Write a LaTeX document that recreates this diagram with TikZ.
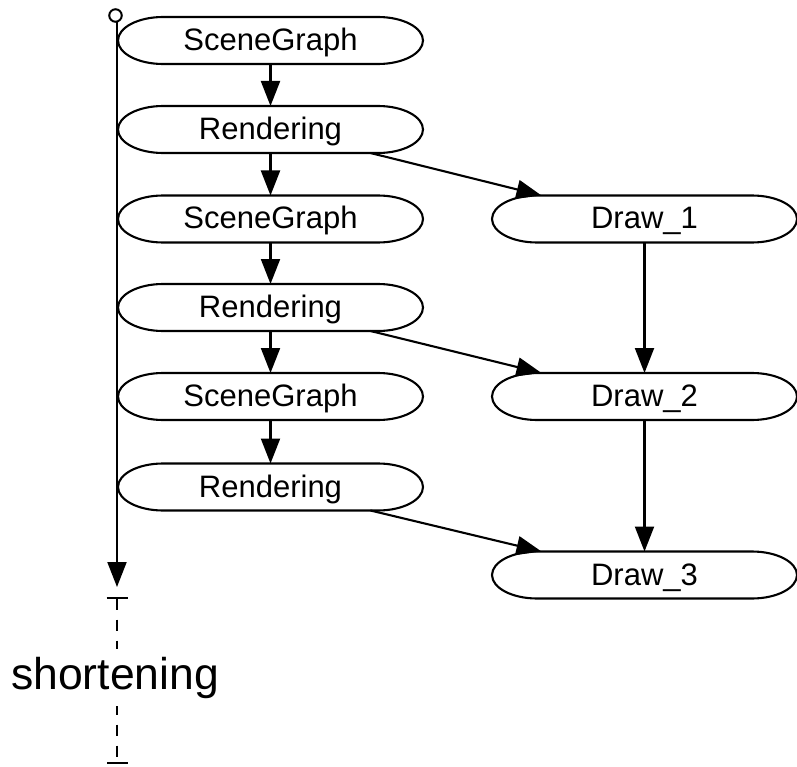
\documentclass[tikz,border=0pt]{standalone}
\usepackage{fontspec}
\setmainfont{Liberation Sans}
\usetikzlibrary{arrows.meta}
\tikzset{
  stage/.style={draw=none, rectangle, minimum width=305pt, minimum height=47pt,
    inner sep=0pt, outer sep=0pt, text height=22pt, text depth=2pt,
    font=\fontsize{31}{37}\selectfont},
  flow/.style={line width=2.1pt, -{Triangle[length=25pt,width=19pt]}},
  outline/.style={line width=2.1pt},
  startdot/.style={circle, draw, line width=2pt, minimum size=12.5pt, inner sep=0pt, outer sep=0pt},
  shortline/.style={line width=2.1pt, dash pattern=on 11pt off 10pt,
    {Bar[width=21pt,line width=2.1pt]}-{Bar[width=21pt,line width=2.1pt]}},
  shortlabel/.style={fill=white, inner xsep=2pt, inner ysep=8pt, font=\fontsize{44.5}{52}\selectfont},
}
\newcommand\stadiumpath[1]{\draw[outline] ([xshift=45pt]#1.north west) -- ([xshift=-45pt]#1.north east)
  arc[start angle=90,end angle=-90,x radius=45pt,y radius=23.5pt] -- ([xshift=45pt]#1.south west)
  arc[start angle=270,end angle=90,x radius=45pt,y radius=23.5pt] -- cycle;}
\begin{document}
\begin{tikzpicture}[x=1pt,y=-1pt]
\useasboundingbox (0,0) rectangle (797,767);
% left column
\node[stage] (s1) at (270.5,40.5) {SceneGraph};
\node[stage] (r1) at (270.5,129.5) {Rendering};
\node[stage] (s2) at (270.5,219) {SceneGraph};
\node[stage] (r2) at (270.5,307.5) {Rendering};
\node[stage] (s3) at (270.5,396.5) {SceneGraph};
\node[stage] (r3) at (270.5,487) {Rendering};
% right column
\node[stage] (d1) at (644.5,219) {Draw\_1};
\node[stage] (d2) at (644.5,396.5) {Draw\_2};
\node[stage] (d3) at (644.5,575) {Draw\_3};
\foreach \n in {s1,r1,s2,r2,s3,r3,d1,d2,d3}{\stadiumpath{\n}}
% vertical flow
\draw[flow] (s1.south) -- (r1.north);
\draw[flow] (r1.south) -- (s2.north);
\draw[flow] (s2.south) -- (r2.north);
\draw[flow] (r2.south) -- (s3.north);
\draw[flow] (s3.south) -- (r3.north);
\draw[flow] (d1.south) -- (d2.north);
\draw[flow] (d2.south) -- (d3.north);
% diagonals
\draw[flow] ([xshift=100pt]r1.south) -- ([xshift=-103pt]d1.north);
\draw[flow] ([xshift=100pt]r2.south) -- ([xshift=-103pt]d2.north);
\draw[flow] ([xshift=100pt]r3.south) -- ([xshift=-103pt]d3.north);
% timeline
\node[startdot] (t0) at (115.5,15.5) {};
\coordinate (t1) at (117,587);
\draw[flow] (t0.south -| t1) -- (t1);
\coordinate (b1) at (117,597);
\coordinate (b2) at (117,764);
\draw[shortline] (b1) -- (b2);
\node[shortlabel, anchor=base] (lbl) at (115,689) {shortening};
\end{tikzpicture}
\end{document}
